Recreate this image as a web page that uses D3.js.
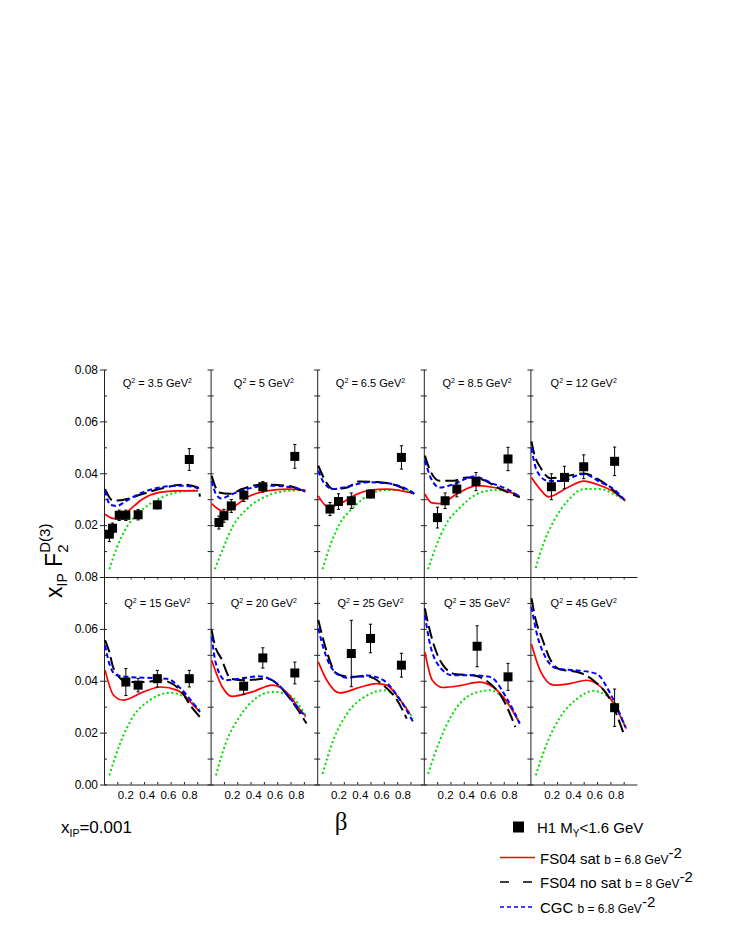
<!DOCTYPE html>
<html>
<head>
<meta charset="utf-8">
<script src="https://cdn.jsdelivr.net/npm/d3@7"></script>
<style>
  body { margin: 0; background: #fff; }
  svg { display: block; }
</style>
</head>
<body>
<svg id="chart" width="736" height="952"></svg>
<script>
const Q2_VALUES = ['3.5', '5', '6.5', '8.5', '12', '15', '20', '25', '35', '45'];

// H1 data, one list per panel: [beta, xF2, error]
const H1_POINTS = [
  [[0.05, 0.0165, 0.0028], [0.08, 0.0188, 0.002], [0.143, 0.0238, 0.002], [0.205, 0.0238, 0.002], [0.32, 0.024, 0.002], [0.5, 0.0278, 0.0015], [0.8, 0.0453, 0.0042]],
  [[0.078, 0.021, 0.0025], [0.125, 0.0236, 0.0025], [0.194, 0.0274, 0.0025], [0.312, 0.0316, 0.0025], [0.49, 0.0348, 0.002], [0.79, 0.0465, 0.0046]],
  [[0.12, 0.0262, 0.0025], [0.2, 0.0291, 0.003], [0.32, 0.0294, 0.003], [0.5, 0.032, 0.0015], [0.79, 0.0461, 0.0045]],
  [[0.128, 0.0229, 0.004], [0.2, 0.0294, 0.003], [0.31, 0.0339, 0.003], [0.49, 0.0368, 0.0035], [0.79, 0.0455, 0.0045]],
  [[0.197, 0.0348, 0.005], [0.32, 0.0384, 0.0043], [0.5, 0.0425, 0.0046], [0.79, 0.0446, 0.0055]],
  [[0.205, 0.0395, 0.0052], [0.32, 0.0383, 0.0026], [0.5, 0.0408, 0.0032], [0.8, 0.0408, 0.0032]],
  [[0.31, 0.0379, 0.0032], [0.49, 0.0488, 0.0039], [0.79, 0.043, 0.0042]],
  [[0.32, 0.0505, 0.0128], [0.5, 0.0563, 0.0055], [0.79, 0.046, 0.0046]],
  [[0.5, 0.0533, 0.0079], [0.79, 0.0415, 0.0052]],
  [[0.79, 0.0296, 0.0072]]
];

// FS04 with saturation, b = 6.8 GeV^-2 (red)
const FS04_SAT = [
  [[0.01, 0.0242], [0.06, 0.0229], [0.10, 0.0225], [0.21, 0.0249], [0.36, 0.030], [0.52, 0.0326], [0.68, 0.0332], [0.88, 0.0332]],
  [[0.01, 0.0283], [0.07, 0.0262], [0.13, 0.0251], [0.21, 0.0268], [0.34, 0.0307], [0.53, 0.0332], [0.72, 0.0339], [0.89, 0.0335]],
  [[0.01, 0.0313], [0.1, 0.0271], [0.21, 0.0281], [0.34, 0.0313], [0.5, 0.0335], [0.65, 0.0339], [0.91, 0.0322]],
  [[0.01, 0.032], [0.07, 0.0287], [0.15, 0.0283], [0.31, 0.032], [0.5, 0.0352], [0.66, 0.0345], [0.78, 0.0332], [0.9, 0.031]],
  [[0.01, 0.0384], [0.09, 0.0339], [0.17, 0.0309], [0.35, 0.0345], [0.5, 0.037], [0.66, 0.0352], [0.78, 0.0329], [0.89, 0.0294]],
  [[0.01, 0.0441], [0.09, 0.0344], [0.18, 0.0325], [0.37, 0.0357], [0.53, 0.0376], [0.69, 0.0363], [0.84, 0.0305], [0.9, 0.028]],
  [[0.01, 0.0479], [0.11, 0.0376], [0.2, 0.034], [0.39, 0.0357], [0.58, 0.0383], [0.74, 0.0344], [0.83, 0.0293], [0.89, 0.0264]],
  [[0.01, 0.0473], [0.09, 0.0402], [0.21, 0.0353], [0.41, 0.0376], [0.56, 0.0389], [0.65, 0.0383], [0.78, 0.0325], [0.87, 0.0273]],
  [[0.01, 0.0511], [0.08, 0.0402], [0.18, 0.0374], [0.34, 0.0381], [0.52, 0.0395], [0.65, 0.0376], [0.78, 0.0318], [0.9, 0.0235]],
  [[0.01, 0.0541], [0.09, 0.0441], [0.22, 0.0383], [0.37, 0.0389], [0.53, 0.0402], [0.66, 0.0376], [0.78, 0.0312], [0.9, 0.0215]]
];

// FS04 without saturation, b = 8 GeV^-2 (black long dash)
const FS04_NOSAT = [
  [[0.01, 0.0339], [0.087, 0.0294], [0.207, 0.030], [0.36, 0.032], [0.52, 0.0339], [0.74, 0.0356], [0.88, 0.0345], [0.9, 0.031]],
  [[0.01, 0.039], [0.08, 0.0326], [0.18, 0.0321], [0.3, 0.034], [0.47, 0.0356], [0.72, 0.0352], [0.89, 0.0326]],
  [[0.01, 0.0429], [0.06, 0.0384], [0.15, 0.0339], [0.28, 0.0345], [0.39, 0.0368], [0.56, 0.0366], [0.75, 0.0352], [0.91, 0.032]],
  [[0.01, 0.0468], [0.06, 0.041], [0.15, 0.0371], [0.28, 0.0371], [0.4, 0.0384], [0.53, 0.0378], [0.72, 0.0339], [0.9, 0.0307]],
  [[0.01, 0.0523], [0.04, 0.0468], [0.09, 0.0425], [0.19, 0.0381], [0.35, 0.039], [0.5, 0.0399], [0.66, 0.0371], [0.88, 0.0296]],
  [[0.01, 0.0557], [0.05, 0.0511], [0.09, 0.0447], [0.22, 0.0395], [0.37, 0.0395], [0.53, 0.0402], [0.72, 0.0363], [0.81, 0.0305], [0.9, 0.026]],
  [[0.01, 0.0595], [0.04, 0.0537], [0.1, 0.0486], [0.19, 0.0408], [0.33, 0.0402], [0.53, 0.0408], [0.72, 0.0344], [0.81, 0.0293], [0.9, 0.0235]],
  [[0.01, 0.0634], [0.05, 0.0569], [0.1, 0.0499], [0.18, 0.0428], [0.31, 0.0415], [0.47, 0.0417], [0.62, 0.0383], [0.75, 0.0325], [0.84, 0.0254]],
  [[0.01, 0.0679], [0.04, 0.0621], [0.08, 0.0557], [0.18, 0.046], [0.3, 0.0425], [0.46, 0.0421], [0.58, 0.0402], [0.74, 0.0331], [0.86, 0.0221]],
  [[0.01, 0.0718], [0.05, 0.0634], [0.11, 0.0563], [0.19, 0.0479], [0.28, 0.0443], [0.44, 0.0434], [0.59, 0.0402], [0.75, 0.0325], [0.87, 0.0202]]
];

// CGC, b = 6.8 GeV^-2 (blue short dash)
const CGC = [
  [[0.01, 0.0333], [0.06, 0.0278], [0.12, 0.0274], [0.21, 0.0294], [0.36, 0.0326], [0.52, 0.0345], [0.71, 0.0352], [0.84, 0.0348], [0.88, 0.034]],
  [[0.01, 0.037], [0.05, 0.032], [0.1, 0.0303], [0.21, 0.0321], [0.34, 0.0339], [0.53, 0.0352], [0.78, 0.0345], [0.89, 0.0329]],
  [[0.01, 0.041], [0.06, 0.0365], [0.15, 0.0339], [0.28, 0.0348], [0.47, 0.0365], [0.65, 0.0362], [0.84, 0.0339], [0.91, 0.0322]],
  [[0.01, 0.045], [0.07, 0.0378], [0.15, 0.0345], [0.28, 0.0358], [0.47, 0.0387], [0.66, 0.0358], [0.78, 0.0339], [0.9, 0.031]],
  [[0.01, 0.0497], [0.06, 0.041], [0.16, 0.0371], [0.28, 0.037], [0.5, 0.0397], [0.66, 0.0365], [0.78, 0.0339], [0.89, 0.0294]],
  [[0.01, 0.0537], [0.06, 0.0453], [0.12, 0.0421], [0.22, 0.0415], [0.37, 0.0412], [0.59, 0.0408], [0.72, 0.037], [0.84, 0.0312], [0.9, 0.028]],
  [[0.01, 0.057], [0.05, 0.0466], [0.14, 0.0402], [0.27, 0.0408], [0.45, 0.0417], [0.64, 0.0383], [0.76, 0.0325], [0.89, 0.026]],
  [[0.01, 0.0602], [0.06, 0.0524], [0.15, 0.0441], [0.28, 0.0412], [0.47, 0.042], [0.62, 0.0402], [0.78, 0.0325], [0.9, 0.0241]],
  [[0.01, 0.0653], [0.05, 0.0557], [0.15, 0.0453], [0.27, 0.0421], [0.46, 0.0421], [0.62, 0.0415], [0.78, 0.0331], [0.9, 0.0235]],
  [[0.01, 0.0685], [0.06, 0.0582], [0.14, 0.0492], [0.25, 0.0447], [0.44, 0.044], [0.62, 0.0427], [0.75, 0.035], [0.89, 0.0221]]
];

// green dotted curve (no legend entry)
const DOTTED = [
  [[0.05, 0.003], [0.12, 0.0113], [0.21, 0.019], [0.33, 0.0249], [0.48, 0.0294], [0.68, 0.0326], [0.88, 0.0335]],
  [[0.04, 0.003], [0.12, 0.0113], [0.21, 0.0197], [0.34, 0.0262], [0.53, 0.0313], [0.72, 0.0332], [0.89, 0.0335]],
  [[0.05, 0.003], [0.12, 0.012], [0.21, 0.0204], [0.34, 0.0268], [0.5, 0.032], [0.65, 0.0335], [0.84, 0.0335], [0.91, 0.0325]],
  [[0.04, 0.003], [0.11, 0.0113], [0.21, 0.0204], [0.34, 0.0268], [0.5, 0.032], [0.66, 0.0335], [0.78, 0.0332], [0.9, 0.0307]],
  [[0.05, 0.0035], [0.12, 0.0126], [0.22, 0.0216], [0.35, 0.0294], [0.5, 0.0339], [0.66, 0.0339], [0.78, 0.032], [0.89, 0.0294]],
  [[0.05, 0.0035], [0.15, 0.0157], [0.27, 0.026], [0.43, 0.0325], [0.62, 0.0354], [0.78, 0.0331], [0.9, 0.0286]],
  [[0.05, 0.0035], [0.14, 0.0157], [0.27, 0.026], [0.42, 0.0331], [0.58, 0.0357], [0.74, 0.0344], [0.89, 0.0267]],
  [[0.05, 0.0041], [0.15, 0.017], [0.28, 0.0273], [0.47, 0.0344], [0.62, 0.0363], [0.78, 0.0325], [0.9, 0.0254]],
  [[0.04, 0.0041], [0.15, 0.017], [0.27, 0.0273], [0.46, 0.035], [0.62, 0.0363], [0.78, 0.0318], [0.9, 0.0241]],
  [[0.05, 0.0035], [0.16, 0.0164], [0.28, 0.026], [0.44, 0.0331], [0.59, 0.0361], [0.75, 0.0331], [0.9, 0.0215]]
];

const Y_TICKS = [0, 0.01, 0.02, 0.03, 0.04, 0.05, 0.06, 0.07, 0.08];
const Y_LABELS_TOP = [0.02, 0.04, 0.06, 0.08];
const Y_LABELS_BOTTOM = [0, 0.02, 0.04, 0.06, 0.08];
const X_TICKS = [0.125, 0.25, 0.375, 0.5, 0.625, 0.75, 0.875];
const X_LABELS = [0.2, 0.4, 0.6, 0.8];

const FONT = '"Liberation Sans", Arial, sans-serif';
const svg = d3.select('#chart');

const left = 104;
const panelW = 106.6;
const rowTops = [369.5, 577];
const rowH = 207.5;

const curveStyles = [
  { data: DOTTED, stroke: '#00dd00', width: 2, dash: '2,2.6' },
  { data: FS04_SAT, stroke: '#ff0000', width: 1.7, dash: null },
  { data: FS04_NOSAT, stroke: '#000000', width: 2, dash: '13,5' },
  { data: CGC, stroke: '#0000ff', width: 2, dash: '5,3' }
];

function styleAxis(sel, size) {
  sel.attr('font-family', FONT).attr('font-size', size);
  sel.selectAll('path, line').attr('stroke', '#222');
}

Q2_VALUES.forEach((q2, i) => {
  const col = i % 5;
  const row = Math.floor(i / 5);
  const x0 = left + col * panelW;
  const top = rowTops[row];
  const x = d3.scaleLinear().domain([0, 1]).range([x0, x0 + panelW]);
  const y = d3.scaleLinear().domain([0, 0.08]).range([top + rowH, top]);
  const g = svg.append('g');

  // left axis, ticks pointing into the panel
  g.append('g')
    .attr('transform', `translate(${x0},0)`)
    .call(d3.axisRight(y).tickValues(Y_TICKS).tickSize(3).tickSizeOuter(0).tickFormat(''))
    .call(styleAxis, 10);

  // inward ticks on the right side (the next panel's axis line)
  if (col < 4) {
    g.append('g')
      .attr('transform', `translate(${x0 + panelW},0)`)
      .call(d3.axisLeft(y).tickValues(Y_TICKS).tickSize(3).tickFormat(''))
      .call(a => a.select('.domain').remove())
      .call(styleAxis, 10);
  }

  if (col === 0) {
    g.append('g')
      .attr('transform', `translate(${x0},0)`)
      .call(d3.axisLeft(y).tickValues(row ? Y_LABELS_BOTTOM : Y_LABELS_TOP).tickSize(4).tickPadding(2).tickFormat(d3.format('.2f')))
      .call(a => a.select('.domain').remove())
      .call(styleAxis, 12)
      .selectAll('text').attr('fill', '#000');
  }

  if (row === 1) {
    g.append('g')
      .attr('transform', `translate(0,${top})`)
      .call(d3.axisBottom(x).tickValues(X_TICKS).tickSize(2.5).tickSizeOuter(0).tickFormat(''))
      .call(styleAxis, 10);
    g.append('g')
      .attr('transform', `translate(0,${top + rowH})`)
      .call(d3.axisTop(x).tickValues(X_TICKS).tickSize(2.5).tickSizeOuter(0).tickFormat(''))
      .call(styleAxis, 10);
    g.append('g')
      .attr('transform', `translate(0,${top + rowH})`)
      .call(d3.axisBottom(x).tickValues(X_LABELS).tickSize(0).tickPadding(6).tickFormat(d3.format('.1f')))
      .call(a => a.select('.domain').remove())
      .call(styleAxis, 11.5)
      .selectAll('text').attr('fill', '#000');
  }

  // panel title
  const title = g.append('text')
    .attr('x', x(0.5))
    .attr('y', top + (row ? 30 : 17.5))
    .attr('text-anchor', 'middle')
    .attr('font-family', FONT)
    .attr('font-size', 11);
  title.append('tspan').text('Q');
  title.append('tspan').attr('font-size', 7).attr('dy', -4).text('2');
  title.append('tspan').attr('dy', 4).text(` = ${q2} GeV`);
  title.append('tspan').attr('font-size', 7).attr('dy', -4).text('2');

  // model curves
  const line = d3.line().x(d => x(d[0])).y(d => y(d[1])).curve(d3.curveMonotoneX);
  curveStyles.forEach(s => {
    g.append('path')
      .attr('d', line(s.data[i]))
      .attr('fill', 'none')
      .attr('stroke', s.stroke)
      .attr('stroke-width', s.width)
      .attr('stroke-dasharray', s.dash);
  });

  // H1 points with error bars
  const pts = g.append('g').selectAll('g').data(H1_POINTS[i]).enter().append('g');
  pts.append('line')
    .attr('x1', d => x(d[0])).attr('x2', d => x(d[0]))
    .attr('y1', d => y(d[1] - d[2])).attr('y2', d => y(d[1] + d[2]))
    .attr('stroke', '#000').attr('stroke-width', 1);
  [-1, 1].forEach(sign => {
    pts.append('line')
      .attr('x1', d => x(d[0]) - 1.6).attr('x2', d => x(d[0]) + 1.6)
      .attr('y1', d => y(d[1] + sign * d[2])).attr('y2', d => y(d[1] + sign * d[2]))
      .attr('stroke', '#000').attr('stroke-width', 1);
  });
  pts.append('rect')
    .attr('x', d => x(d[0]) - 4.5).attr('y', d => y(d[1]) - 4.5)
    .attr('width', 9).attr('height', 9)
    .attr('fill', '#000');
});

// y axis title
const yTitle = svg.append('text')
  .attr('transform', 'translate(62,598) rotate(-90)')
  .attr('font-family', FONT)
  .attr('font-size', 23);
yTitle.append('tspan').text('x');
yTitle.append('tspan').attr('font-size', 14).attr('dy', 5).text('IP');
yTitle.append('tspan').attr('dy', -5).text(' F');
yTitle.append('tspan').attr('font-size', 15).attr('dy', 6).text('2');
yTitle.append('tspan').attr('font-size', 15).attr('dx', -8.3).attr('dy', -18).text('D(3)');

// x axis title
svg.append('text')
  .attr('x', 341).attr('y', 830)
  .attr('text-anchor', 'middle')
  .attr('font-family', '"Liberation Serif", "DejaVu Serif", serif')
  .attr('font-size', 25)
  .text('β');

// x_IP annotation
const xip = svg.append('text')
  .attr('x', 61).attr('y', 833)
  .attr('font-family', FONT)
  .attr('font-size', 17);
xip.append('tspan').text('x');
xip.append('tspan').attr('font-size', 10.5).attr('dy', 4).text('IP');
xip.append('tspan').attr('dy', -4).text('=0.001');

// legend
const legend = svg.append('g').attr('font-family', FONT);
legend.append('rect').attr('x', 513).attr('y', 821.5).attr('width', 11).attr('height', 11).attr('fill', '#000');
const l0 = legend.append('text').attr('x', 537).attr('y', 833).attr('font-size', 15);
l0.append('tspan').text('H1 M');
l0.append('tspan').attr('font-size', 10).attr('dy', 4).text('Y');
l0.append('tspan').attr('dy', -4).text('<1.6 GeV');

const legendRows = [
  { y: 857.5, stroke: '#ff0000', width: 1.6, dash: null, name: 'FS04 sat ', param: 'b = 6.8 GeV' },
  { y: 882, stroke: '#000000', width: 1.6, dash: '9,14', name: 'FS04 no sat ', param: 'b = 8 GeV' },
  { y: 907, stroke: '#0000ff', width: 1.6, dash: '4,3', name: 'CGC ', param: 'b = 6.8 GeV' }
];
legendRows.forEach(r => {
  legend.append('line')
    .attr('x1', 500).attr('x2', 535).attr('y1', r.y).attr('y2', r.y)
    .attr('stroke', r.stroke).attr('stroke-width', r.width).attr('stroke-dasharray', r.dash);
  const t = legend.append('text').attr('x', 540).attr('y', r.y + 6).attr('font-size', 15);
  t.append('tspan').text(r.name);
  t.append('tspan').attr('font-size', 12).text(r.param);
  t.append('tspan').attr('font-size', 15).attr('dy', -6).text('-2');
});
</script>
</body>
</html>
